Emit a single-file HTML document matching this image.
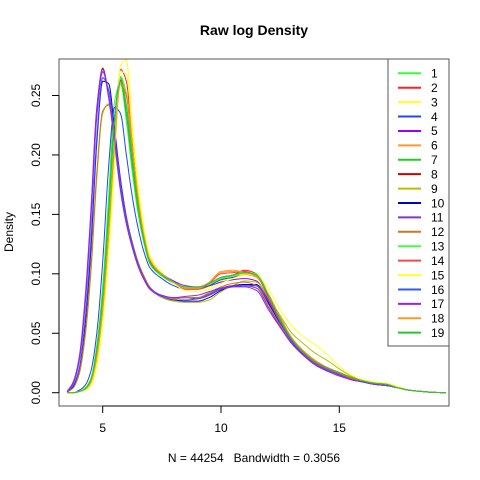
<!DOCTYPE html>
<html><head><meta charset="utf-8"><style>
html,body{margin:0;padding:0;background:#fff;}
svg{display:block;font-family:"Liberation Sans",Arial,sans-serif;}
</style></head><body>
<svg id="chart" width="480" height="480" viewBox="0 0 480 480">
<defs><clipPath id="pc"><rect x="59" y="59" width="390" height="347"/></clipPath></defs>
<rect width="480" height="480" fill="#fff"/>
<text x="254" y="35" text-anchor="middle" font-size="14" font-weight="bold">Raw log Density</text>
<text x="254" y="462" text-anchor="middle" font-size="12" style="white-space:pre" xml:space="preserve">N = 44254   Bandwidth = 0.3056</text>
<text transform="translate(13,232) rotate(-90)" text-anchor="middle" font-size="12">Density</text>
<g id="curves" clip-path="url(#pc)"></g>
<rect x="59" y="59" width="390" height="347" fill="none" stroke="#555" stroke-width="1"/>
<g id="axes"></g>
<g id="legend"></g>
</svg>
<script>
const xGrid=[3.5,3.75,4,4.25,4.5,4.75,5,5.25,5.5,5.75,6,6.25,6.5,6.75,7,7.5,8,8.5,9,9.5,10,10.5,11,11.5,12,12.5,13,13.5,14,14.5,15,15.5,16,16.5,17,17.5,18,18.5,19,19.5];
const seriesNames=["1","2","3","4","5","6","7","8","9","10","11","12","13","14","15","16","17","18","19"];
const seriesColors=["#33ff33","#ff2020","#ffff22","#2244ff","#9900ff","#ff9933","#22cc22","#cc0000","#bbbb00","#0000cc","#8833cc","#cc7722","#44ff44","#ff4444","#ffff33","#3355ff","#9922ee","#ff9922","#22cc22"];
const s1=[0,0,0.001,0.004,0.012,0.04,0.09,0.165,0.245,0.26,0.228,0.185,0.15,0.125,0.108,0.098,0.092,0.088,0.088,0.091,0.096,0.098,0.1,0.099,0.082,0.062,0.045,0.034,0.026,0.021,0.017,0.013,0.01,0.008,0.007,0.004,0.002,0.001,0.0003,0];
const s2=[0,0,0.001,0.003,0.008,0.028,0.066,0.13,0.205,0.272,0.262,0.212,0.166,0.132,0.112,0.1,0.093,0.088,0.088,0.091,0.097,0.099,0.103,0.1,0.082,0.061,0.044,0.033,0.025,0.02,0.016,0.012,0.009,0.008,0.007,0.004,0.002,0.001,0.0003,0];
const s3=[0,0,0.001,0.002,0.006,0.022,0.058,0.115,0.19,0.275,0.28,0.225,0.175,0.138,0.115,0.101,0.093,0.088,0.087,0.089,0.094,0.097,0.1,0.099,0.083,0.063,0.046,0.035,0.027,0.021,0.017,0.013,0.01,0.008,0.007,0.004,0.002,0.001,0.0003,0];
const s4=[0,0,0.002,0.006,0.018,0.05,0.11,0.19,0.24,0.235,0.2,0.165,0.138,0.118,0.105,0.096,0.09,0.087,0.087,0.09,0.095,0.097,0.099,0.098,0.081,0.061,0.044,0.033,0.025,0.02,0.016,0.012,0.009,0.008,0.007,0.004,0.002,0.001,0.0003,0];
const s5=[0,0,0.001,0.003,0.01,0.035,0.08,0.15,0.232,0.263,0.235,0.192,0.155,0.128,0.11,0.1,0.094,0.09,0.089,0.09,0.093,0.095,0.096,0.094,0.078,0.059,0.043,0.032,0.024,0.019,0.015,0.011,0.009,0.007,0.006,0.004,0.002,0.001,0.0003,0];
const s6=[0,0,0.001,0.003,0.009,0.03,0.07,0.135,0.21,0.262,0.25,0.205,0.162,0.13,0.11,0.099,0.092,0.087,0.087,0.092,0.101,0.102,0.1,0.097,0.083,0.064,0.046,0.035,0.027,0.021,0.017,0.013,0.01,0.008,0.007,0.004,0.002,0.001,0.0003,0];
const s7=[0,0,0.001,0.003,0.01,0.034,0.078,0.148,0.225,0.265,0.242,0.198,0.158,0.13,0.11,0.099,0.093,0.088,0.088,0.091,0.096,0.098,0.101,0.099,0.082,0.062,0.045,0.034,0.026,0.021,0.017,0.013,0.01,0.008,0.007,0.004,0.002,0.001,0.0003,0];
const s8=[0.001,0.008,0.027,0.075,0.15,0.238,0.273,0.25,0.212,0.172,0.143,0.123,0.107,0.095,0.087,0.081,0.079,0.08,0.079,0.082,0.087,0.09,0.091,0.09,0.075,0.058,0.043,0.033,0.025,0.02,0.016,0.012,0.009,0.008,0.007,0.004,0.002,0.001,0.0003,0];
const s9=[0.0005,0.004,0.015,0.045,0.1,0.18,0.235,0.243,0.215,0.178,0.148,0.127,0.11,0.098,0.089,0.08,0.077,0.076,0.076,0.078,0.085,0.09,0.094,0.093,0.08,0.065,0.05,0.041,0.033,0.027,0.02,0.014,0.01,0.008,0.007,0.004,0.002,0.001,0.0003,0];
const s10=[0.0005,0.005,0.018,0.055,0.12,0.21,0.262,0.26,0.222,0.18,0.148,0.126,0.109,0.097,0.088,0.081,0.078,0.077,0.077,0.08,0.086,0.09,0.091,0.091,0.076,0.058,0.042,0.032,0.024,0.019,0.015,0.011,0.009,0.007,0.006,0.004,0.002,0.001,0.0003,0];
const s11=[0.001,0.009,0.029,0.078,0.153,0.24,0.272,0.248,0.21,0.17,0.142,0.122,0.106,0.095,0.087,0.081,0.08,0.08,0.08,0.083,0.088,0.09,0.09,0.088,0.072,0.056,0.042,0.032,0.024,0.019,0.015,0.011,0.009,0.007,0.006,0.004,0.002,0.001,0.0003,0];
const s12=[0.0005,0.004,0.016,0.048,0.105,0.185,0.237,0.242,0.212,0.176,0.147,0.126,0.109,0.097,0.088,0.081,0.079,0.08,0.08,0.084,0.089,0.092,0.093,0.09,0.074,0.057,0.043,0.033,0.025,0.02,0.016,0.012,0.009,0.008,0.007,0.004,0.002,0.001,0.0003,0];
const s13=[0,0,0.001,0.003,0.009,0.031,0.072,0.138,0.214,0.266,0.252,0.206,0.163,0.131,0.111,0.1,0.093,0.088,0.088,0.091,0.096,0.098,0.101,0.1,0.083,0.062,0.045,0.034,0.026,0.021,0.017,0.013,0.01,0.008,0.007,0.004,0.002,0.001,0.0003,0];
const s14=[0,0,0.001,0.003,0.009,0.03,0.07,0.134,0.208,0.262,0.25,0.206,0.163,0.131,0.111,0.099,0.092,0.087,0.087,0.092,0.1,0.101,0.102,0.098,0.08,0.06,0.044,0.033,0.025,0.02,0.016,0.012,0.009,0.008,0.007,0.004,0.002,0.001,0.0003,0];
const s15=[0,0,0.001,0.002,0.007,0.025,0.062,0.122,0.2,0.27,0.268,0.218,0.17,0.135,0.113,0.1,0.092,0.086,0.085,0.087,0.092,0.096,0.099,0.099,0.087,0.07,0.056,0.047,0.04,0.032,0.022,0.015,0.011,0.009,0.008,0.005,0.002,0.001,0.0003,0];
const s16=[0.0005,0.006,0.02,0.06,0.128,0.215,0.265,0.255,0.218,0.178,0.146,0.125,0.108,0.096,0.088,0.081,0.078,0.078,0.079,0.082,0.087,0.089,0.09,0.09,0.077,0.059,0.043,0.032,0.024,0.019,0.015,0.011,0.009,0.007,0.006,0.004,0.002,0.001,0.0003,0];
const s17=[0.001,0.008,0.026,0.072,0.146,0.232,0.27,0.25,0.212,0.172,0.143,0.123,0.107,0.096,0.088,0.082,0.08,0.081,0.082,0.085,0.088,0.089,0.089,0.086,0.07,0.055,0.041,0.031,0.023,0.018,0.014,0.011,0.009,0.007,0.006,0.004,0.002,0.001,0.0003,0];
const s18=[0,0,0.001,0.003,0.009,0.03,0.069,0.132,0.206,0.26,0.252,0.208,0.164,0.132,0.112,0.1,0.093,0.088,0.088,0.093,0.102,0.103,0.101,0.098,0.083,0.063,0.046,0.035,0.027,0.021,0.017,0.013,0.01,0.008,0.007,0.004,0.002,0.001,0.0003,0];
const s19=[0,0,0.001,0.003,0.011,0.036,0.082,0.155,0.23,0.262,0.236,0.192,0.154,0.128,0.109,0.099,0.093,0.089,0.089,0.092,0.097,0.099,0.101,0.099,0.082,0.062,0.045,0.034,0.026,0.021,0.017,0.013,0.01,0.008,0.007,0.004,0.002,0.001,0.0003,0];
const seriesValues=[s1,s2,s3,s4,s5,s6,s7,s8,s9,s10,s11,s12,s13,s14,s15,s16,s17,s18,s19];
const xTicks=[5,10,15];
const yTicks=[0,0.05,0.10,0.15,0.20,0.25];
const yTickLabels=["0.00","0.05","0.10","0.15","0.20","0.25"];

const NS="http://www.w3.org/2000/svg";
function X(v){return 102.7+(v-5)*23.66;}
function Y(v){return 392.7-v*1188.8;}
function mk(t,a,p){const e=document.createElementNS(NS,t);for(const k in a)e.setAttribute(k,a[k]);p.appendChild(e);return e;}

function monotone(xs,ys){
  const n=xs.length,d=[],m=new Array(n);
  for(let i=0;i<n-1;i++)d.push((ys[i+1]-ys[i])/(xs[i+1]-xs[i]));
  m[0]=d[0];m[n-1]=d[n-2];
  for(let i=1;i<n-1;i++){
    if(d[i-1]*d[i]<=0)m[i]=0;
    else{const h0=xs[i]-xs[i-1],h1=xs[i+1]-xs[i];const w1=2*h1+h0,w2=h1+2*h0;m[i]=(w1+w2)/(w1/d[i-1]+w2/d[i]);}
  }
  let s="";
  for(let i=0;i<n-1;i++){
    const h=xs[i+1]-xs[i];
    for(let k=0;k<8;k++){
      const t=k/8,t2=t*t,t3=t2*t;
      const y=(2*t3-3*t2+1)*ys[i]+(t3-2*t2+t)*h*m[i]+(-2*t3+3*t2)*ys[i+1]+(t3-t2)*h*m[i+1];
      const x=xs[i]+t*h;
      s+=(s?"L":"M")+X(x).toFixed(2)+","+Y(y).toFixed(2);
    }
  }
  s+="L"+X(xs[n-1]).toFixed(2)+","+Y(ys[n-1]).toFixed(2);
  return s;
}

const cg=document.getElementById("curves");
seriesValues.forEach((vals,i)=>{
  const p=mk("path",{d:monotone(xGrid,vals),fill:"none",stroke:seriesColors[i],"stroke-width":"1"},cg);
  
  
});

const ag=document.getElementById("axes");
const xl=mk("line",{x1:X(5),x2:X(15),y1:406,y2:406,stroke:"#000"},ag);


xTicks.forEach(v=>{
  const t=mk("line",{x1:X(v),x2:X(v),y1:406,y2:413,stroke:"#000"},ag);
  
  
  const l=mk("text",{x:X(v),y:432,"text-anchor":"middle","font-size":"12"},ag);
  l.textContent=String(v);
  
  
});
const yl=mk("line",{x1:59,x2:59,y1:Y(0),y2:Y(0.25),stroke:"#000"},ag);


yTicks.forEach((v,i)=>{
  const t=mk("line",{x1:52,x2:59,y1:Y(v),y2:Y(v),stroke:"#000"},ag);
  
  
  const l=mk("text",{transform:"translate(40,"+Y(v).toFixed(1)+") rotate(-90)","text-anchor":"middle","font-size":"12"},ag);
  l.textContent=yTickLabels[i];
  
  
});

const lg=document.getElementById("legend");
const box=mk("rect",{x:388,y:59,width:61,height:287,fill:"#fff",stroke:"#555"},lg);


seriesNames.forEach((n,i)=>{
  const y=73.3+i*14.41;
  const g=mk("g",{},lg);
  
  
  mk("line",{x1:398,x2:421,y1:y,y2:y,stroke:seriesColors[i],"stroke-width":"2"},g);
  const t=mk("text",{x:431,y:y+4.3,"font-size":"12"},g);
  t.textContent=n;
});
</script>
</body></html>
